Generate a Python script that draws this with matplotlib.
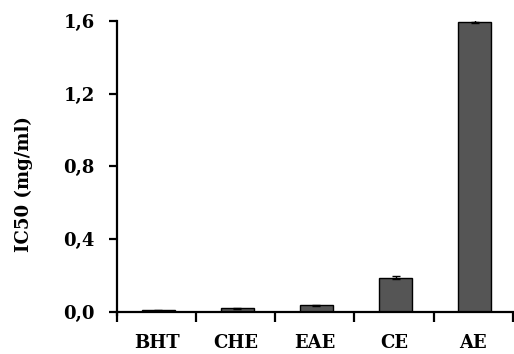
import matplotlib
matplotlib.use("Agg")
import matplotlib.pyplot as plt
import numpy as np

# extracts and their IC50 values (mg/ml)
categories = ["BHT", "CHE", "EAE", "CE", "AE"]
ic50 = [0.008, 0.018, 0.035, 0.188, 1.595]
ic50_err = [0.002, 0.003, 0.003, 0.010, 0.008]
yticks = [0.0, 0.4, 0.8, 1.2, 1.6]
ytick_labels = ["0,0", "0,4", "0,8", "1,2", "1,6"]

BAR_COLOR = "#555555"
FONT = {"family": "DejaVu Serif", "weight": "bold", "size": 13}

fig = plt.figure(figsize=(5.14, 3.54), dpi=100)
ax = fig.add_axes([0.2276, 0.1195, 0.77, 0.8212])

x = np.arange(len(categories))
ax.bar(x + 0.02, ic50, width=0.42, color=BAR_COLOR, edgecolor="black", linewidth=1.0,
       yerr=ic50_err, error_kw=dict(ecolor="black", elinewidth=1.0, capsize=3, capthick=1.0))

ax.set_xlim(-0.5, len(categories) - 0.5)
ax.set_ylim(0, 1.6)

# boundary ticks between categories, labels centred on the bars
ax.set_xticks(np.arange(len(categories) + 1) - 0.5)
ax.set_xticklabels([])
ax.set_xticks(x, minor=True)
ax.set_xticklabels(categories, minor=True, fontdict=FONT)
ax.tick_params(axis="x", which="major", direction="out", length=7, width=1.6)
ax.tick_params(axis="x", which="minor", length=0, pad=16)

ax.set_yticks(yticks)
ax.set_yticklabels(ytick_labels, fontdict=FONT)
ax.tick_params(axis="y", direction="out", length=6, width=1.6, pad=10)

ax.set_ylabel("IC50 (mg/ml)", fontdict=FONT)
ax.yaxis.set_label_coords(-0.212, 0.44)

for side in ("top", "right"):
    ax.spines[side].set_visible(False)
for side in ("left", "bottom"):
    ax.spines[side].set_linewidth(1.6)
ax.spines["left"].set_bounds(-0.02, 1.6)

fig.savefig("out.png", dpi=100)
